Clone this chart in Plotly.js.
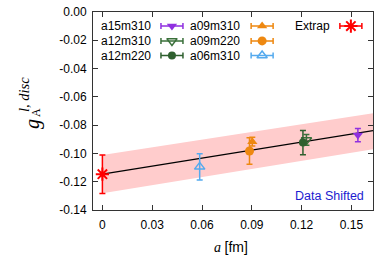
<!DOCTYPE html>
<html>
<head>
<meta charset="utf-8">
<script src="https://cdn.plot.ly/plotly-3.0.1.min.js"></script>
<style>html,body{margin:0;padding:0;background:#fff}#chart{width:390px;height:260px}</style>
</head>
<body>
<div id="chart"></div>
<script>
// ---- data ----
const seriesNames = ['a15m310', 'a12m310', 'a12m220', 'a09m310', 'a09m220', 'a06m310', 'Extrap'];
const aShifted = [0.1539, 0.1229, 0.1208, 0.0903, 0.0886, 0.0586, 0.0];
const gA = [-0.0870, -0.0905, -0.0923, -0.0917, -0.0983, -0.1095, -0.1147];
const gAErr = [0.0047, 0.0038, 0.0086, 0.0031, 0.0093, 0.0092, 0.0136];
const fitA = [0.0, 0.163];
const fitG = [-0.1147, -0.0839];
const bandUpper = [-0.1011, -0.0716];
const bandLower = [-0.1282, -0.0971];
const xTickVals = [0, 0.03, 0.06, 0.09, 0.12, 0.15];
const xTickText = ['0', '0.03', '0.06', '0.09', '0.12', '0.15'];
const yTickVals = [0, -0.02, -0.04, -0.06, -0.08, -0.10, -0.12, -0.14];
const yTickText = ['0.00', '-0.02', '-0.04', '-0.06', '-0.08', '-0.10', '-0.12', '-0.14'];

// ---- styles ----
const styles = [
  {color: '#9030e0', symbol: 'triangle-down', size: 9},
  {color: '#3a703a', symbol: 'triangle-down-open', size: 9},
  {color: '#2f602f', symbol: 'circle', size: 8},
  {color: '#ee8810', symbol: 'triangle-up', size: 9},
  {color: '#ee8810', symbol: 'circle', size: 9},
  {color: '#55aaee', symbol: 'triangle-up-open', size: 9},
  {color: '#ff0000', symbol: 'asterisk-open', size: 11}
];
// legend key placement (paper fractions): column, row
const legendCol = [0, 0, 0, 1, 1, 1, 2];
const legendRow = [0, 1, 2, 0, 1, 2, 0];
const colMarkerX = [0.282, 0.604, 0.921];
const colTextX = [0.214, 0.532, 0.854];
const rowY = [0.929, 0.854, 0.780];

const traces = [];
traces.push({x: fitA, y: bandLower, mode: 'lines', line: {width: 0, color: 'rgba(0,0,0,0)'}, hoverinfo: 'skip', showlegend: false});
traces.push({x: fitA, y: bandUpper, mode: 'lines', fill: 'tonexty', fillcolor: '#ffcccc', line: {width: 0, color: 'rgba(0,0,0,0)'}, hoverinfo: 'skip', showlegend: false});
traces.push({x: fitA, y: fitG, mode: 'lines', line: {color: '#000', width: 1.3}, showlegend: false});

const annotations = [];
for (let i = 0; i < seriesNames.length; i++) {
  const s = styles[i];
  const open = s.symbol.indexOf('open') >= 0;
  const mk = {symbol: s.symbol, size: s.size, color: s.color, line: {color: s.color, width: open ? (s.symbol === 'asterisk-open' ? 2 : 1.5) : 0}};
  traces.push({
    x: [aShifted[i]], y: [gA[i]], mode: 'markers', showlegend: false,
    error_y: {type: 'data', array: [gAErr[i]], color: s.color, thickness: 1.5, width: 3},
    marker: mk
  });
  // legend key
  traces.push({
    x: [colMarkerX[legendCol[i]]], y: [rowY[legendRow[i]]], xaxis: 'x2', yaxis: 'y2',
    mode: 'markers', showlegend: false, hoverinfo: 'skip',
    error_x: {type: 'constant', value: 0.0393, color: s.color, thickness: 1.5, width: 3},
    marker: mk
  });
  annotations.push({
    text: seriesNames[i], xref: 'paper', yref: 'paper', x: colTextX[legendCol[i]], y: rowY[legendRow[i]],
    xanchor: 'right', yanchor: 'middle', showarrow: false,
    font: {family: 'Liberation Sans, Arial, sans-serif', size: 12, color: '#000'}
  });
}

const PX = (px) => (px - 93) / 280;
const PY = (py) => (210 - py) / 198;
annotations.push({text: 'Data Shifted', xref: 'paper', yref: 'paper', x: PX(366), y: PY(196),
  xanchor: 'right', yanchor: 'middle', showarrow: false,
  font: {family: 'Liberation Sans, Arial, sans-serif', size: 12.5, color: '#1c1cd0'}});
// y-axis title pieces
annotations.push({text: '<i>g</i>', xref: 'paper', yref: 'paper', x: PX(32), y: PY(124), textangle: -90,
  xanchor: 'center', yanchor: 'middle', showarrow: false,
  font: {family: 'Liberation Serif, serif', size: 20, color: '#000'}});
annotations.push({text: 'A', xref: 'paper', yref: 'paper', x: PX(36), y: PY(113), textangle: -90,
  xanchor: 'center', yanchor: 'middle', showarrow: false,
  font: {family: 'Liberation Serif, serif', size: 12, color: '#000'}});
annotations.push({text: '<i>l, disc</i>', xref: 'paper', yref: 'paper', x: PX(24), y: PY(95), textangle: -90,
  xanchor: 'center', yanchor: 'middle', showarrow: false,
  font: {family: 'Liberation Serif, serif', size: 14.5, color: '#000'}});
// x-axis title
annotations.push({text: '<i>a</i> <span style="font-family:Liberation Sans">[fm]</span>', xref: 'paper', yref: 'paper',
  x: PX(231), y: PY(247), xanchor: 'center', yanchor: 'middle', showarrow: false,
  font: {family: 'Liberation Serif, serif', size: 14, color: '#000'}});

const axisCommon = {
  showline: true, mirror: 'ticks', linecolor: '#333', linewidth: 1,
  ticks: 'inside', ticklen: 5, tickcolor: '#333', tickwidth: 1,
  showgrid: false, zeroline: false,
  tickfont: {family: 'Liberation Sans, Arial, sans-serif', size: 12, color: '#000'}
};

const layout = {
  width: 390, height: 260,
  margin: {l: 93, r: 17, t: 12, b: 50, pad: 0},
  paper_bgcolor: '#fff', plot_bgcolor: '#fff',
  showlegend: false,
  xaxis: Object.assign({}, axisCommon, {range: [-0.00566, 0.163], tickmode: 'array', tickvals: xTickVals, ticktext: xTickText, ticklabelstandoff: 4}),
  yaxis: Object.assign({}, axisCommon, {range: [-0.14, 0], tickmode: 'array', tickvals: yTickVals, ticktext: yTickText, ticklabelstandoff: 3}),
  xaxis2: {overlaying: 'x', range: [0, 1], visible: false, fixedrange: true},
  yaxis2: {overlaying: 'y', range: [0, 1], visible: false, fixedrange: true},
  annotations: annotations
};

Plotly.newPlot('chart', traces, layout, {staticPlot: true, displayModeBar: false});
</script>
</body>
</html>
